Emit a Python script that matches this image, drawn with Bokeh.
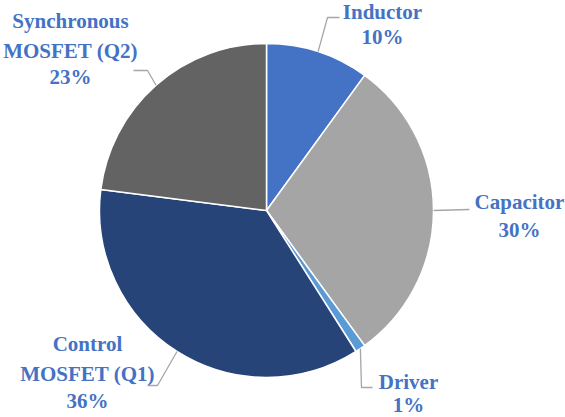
import math
from bokeh.plotting import figure
from bokeh.models import Range1d, ColumnDataSource
from bokeh.embed import file_html
from bokeh.resources import INLINE
from bokeh.core.properties import value

# ---- data ----
categories = ["Inductor", "Capacitor", "Driver", "Control MOSFET (Q1)", "Synchronous MOSFET (Q2)"]
shares = [10, 30, 1, 36, 23]
colors = ["#4472C4", "#A5A5A5", "#5B9BD5", "#264478", "#636363"]

# ---- layout (picture pixel coordinates, y measured from top) ----
label_breaks = [None, None, None, "Control", "Synchronous"]   # first line split
label_x = [382, 519, 408, 87, 70]
label_baselines = [
    [18, 43],
    [208, 236],
    [388, 411],
    [350, 380, 407],
    [27, 57, 83],
]
baseline_fix = -7
leader_bends = [
    [(327, 17), (339, 17)],
    [(469, 209)],
    [(361, 387), (372, 387)],
    [(157, 385), (147, 385)],
    [(147, 70), (133, 70)],
]
CX, CY, R = 266, 210, 167
PW, PH = 565, 417


def Y(iy):
    return PH - iy


p = figure(width=PW, height=PH, x_range=Range1d(0, PW), y_range=Range1d(0, PH),
           output_backend="svg", toolbar_location=None, min_border=0,
           x_axis_type=None, y_axis_type=None)
p.grid.visible = False
p.outline_line_color = None
p.background_fill_color = "white"

# wedges
total = float(sum(shares))
starts, ends, mids = [], [], []
cum = 0.0
for s in shares:
    a0 = math.pi / 2 - 2 * math.pi * cum / total
    cum += s
    a1 = math.pi / 2 - 2 * math.pi * cum / total
    starts.append(a0)
    ends.append(a1)
    mids.append((a0 + a1) / 2)

src = ColumnDataSource(dict(start=starts, end=ends, color=colors, cat=categories, share=shares))
p.wedge(x=CX, y=Y(CY), radius=R, start_angle="start", end_angle="end", direction="clock",
        fill_color="color", line_color="white", line_width=1.5, source=src)

# leader lines
xs, ys = [], []
for m, bends in zip(mids, leader_bends):
    ex = CX + R * math.cos(m)
    ey = Y(CY) + R * math.sin(m)
    lx = [ex] + [b[0] for b in bends]
    ly = [ey] + [Y(b[1]) for b in bends]
    xs.append(lx)
    ys.append(ly)
p.multi_line(xs=xs, ys=ys, line_color="#A6A6A6", line_width=1.3)

# labels
tx, ty, tt = [], [], []
for cat, sh, brk, ax, bls in zip(categories, shares, label_breaks, label_x, label_baselines):
    if brk:
        lines = [brk, cat[len(brk):].strip()]
    else:
        lines = [cat]
    lines.append(f"{sh}%")
    for ln, bl in zip(lines, bls):
        tx.append(ax)
        ty.append(Y(bl + baseline_fix))
        tt.append(ln)
p.text(x=tx, y=ty, text=tt, text_align="center", text_baseline="alphabetic",
       text_font=value("Liberation Serif"), text_font_style="bold",
       text_font_size="21px", text_color="#4472C4")

open("out.html", "w").write(file_html(p, INLINE))
